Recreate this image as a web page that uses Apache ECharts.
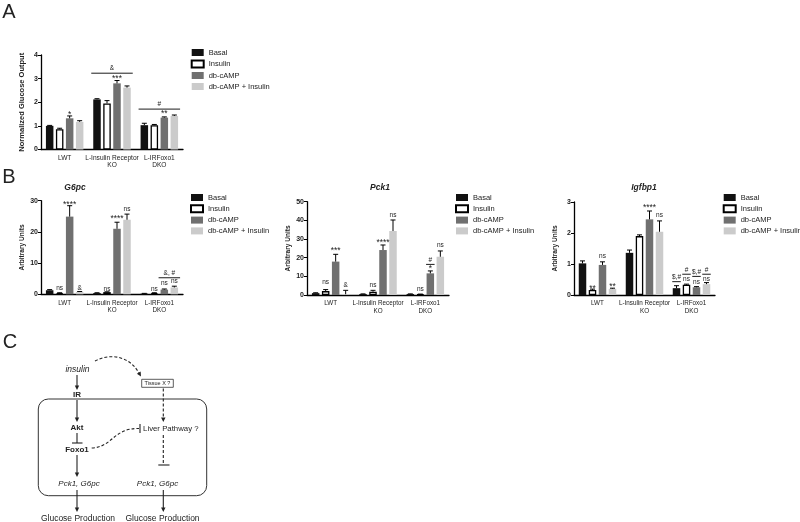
<!DOCTYPE html>
<html>
<head>
<meta charset="utf-8">
<script src="https://cdn.jsdelivr.net/npm/echarts@6/dist/echarts.min.js"></script>
<style>
  html, body { margin: 0; background: #fff; }
  #chart { width: 800px; height: 522px; }
</style>
</head>
<body>
<div id="chart"></div>
<script>
// ---- data (rows = treatment, columns = genotype) ----
const categories = ['LWT', 'L-Insulin Receptor\nKO', 'L-IRFoxo1\nDKO'];
const treatments = ['Basal', 'Insulin', 'db-cAMP', 'db-cAMP + Insulin'];

// A: normalized glucose output
const glucoseMean = [[1.0, 2.12, 1.03], [0.86, 1.95, 1.03], [1.32, 2.8, 1.35], [1.17, 2.62, 1.42]];
const glucoseTop = [[1.02, 2.15, 1.11], [0.9, 2.07, 1.06], [1.42, 2.92, 1.38], [1.22, 2.69, 1.46]];
const glucoseNotes = [[0, 2, 1.53, '*'], [1, 2, 3.06, '***'], [2, 2, 1.58, '**']];
const glucoseBrackets = [[1, 0, 3, 3.23, '&'], [2, 0, 3, 1.71, '#']];

// B: G6pc
const g6pcMean = [[1.3, 0.4, 0.2], [0.4, 0.7, 0.4], [24.9, 21.0, 1.5], [0.75, 23.9, 2.2]];
const g6pcTop = [[1.5, 0.5, 0.3], [0.5, 0.8, 0.5], [28.4, 23.1, 1.7], [0.9, 25.7, 2.6]];
const g6pcNotes = [[0, 1, 1.8, 'ns'], [0, 2, 29.0, '****'], [0, 3, 1.8, '&'], [1, 1, 1.6, 'ns'],
  [1, 2, 24.7, '****'], [1, 3, 27.3, 'ns'], [2, 1, 1.7, 'ns'], [2, 2, 3.5, 'ns'], [2, 3, 4.3, 'ns']];
const g6pcBrackets = [[2, 2, 3, 5.3, '&, #']];

// B: Pck1
const pck1Mean = [[1.0, 0.5, 0.5], [2.1, 1.8, 0.4], [17.9, 24.1, 11.6], [0.4, 34.3, 20.5]];
const pck1Top = [[1.2, 0.6, 0.6], [2.9, 2.5, 0.5], [21.8, 26.8, 12.9], [2.5, 40.2, 23.6]];
const pck1Notes = [[0, 1, 6.8, 'ns'], [0, 2, 24.1, '***'], [0, 3, 5.4, '&'], [1, 1, 5.0, 'ns'],
  [1, 2, 28.5, '****'], [1, 3, 42.8, 'ns'], [2, 1, 3.2, 'ns'], [2, 2, 14.6, '*'], [2, 3, 26.8, 'ns']];
const pck1Brackets = [[2, 2, 2, 16.4, '#']];

// B: Igfbp1
const igfbp1Mean = [[1.02, 1.36, 0.22], [0.16, 1.9, 0.33], [0.97, 2.44, 0.25], [0.2, 2.04, 0.35]];
const igfbp1Top = [[1.1, 1.45, 0.3], [0.19, 1.94, 0.35], [1.07, 2.71, 0.27], [0.22, 2.39, 0.4]];
const igfbp1Notes = [[0, 1, 0.25, '**'], [0, 2, 1.24, 'ns'], [0, 3, 0.3, '**'], [1, 2, 2.85, '****'],
  [1, 3, 2.58, 'ns'], [2, 1, 0.52, 'ns'], [2, 2, 0.4, 'ns'], [2, 3, 0.52, 'ns']];
const igfbp1Brackets = [[2, 0, 0, 0.43, '$,#'], [2, 1, 1, 0.67, '#'], [2, 2, 2, 0.6, '$,#'], [2, 3, 3, 0.67, '#']];

// ---- styling ----
const FONT = '"Liberation Sans", Arial, sans-serif';
const INK = '#222';
const BAR_W = 7.5;
const SLOT = 10; // bar width + gap
const barStyles = [
  { color: '#111' },
  { color: '#fff', borderColor: '#000', borderWidth: 1.3 },
  { color: '#707070' },
  { color: '#cbcbcb' }
];

const panels = [
  { mean: glucoseMean, top: glucoseTop, notes: glucoseNotes, brackets: glucoseBrackets,
    grid: { left: 41, top: 55, width: 142, height: 94.5 }, max: 4, step: 1,
    yName: 'Normalized Glucose Output', nameSize: 7.5, labelSize: 6.6, legend: [190.7, 48.5], gap: 3 },
  { mean: g6pcMean, top: g6pcTop, notes: g6pcNotes, brackets: g6pcBrackets,
    grid: { left: 41, top: 200.7, width: 142, height: 93.6 }, max: 30, step: 10,
    yName: 'Arbitrary Units', nameSize: 6.6, labelSize: 6.3, legend: [190, 193.5], gap: 2.8 },
  { mean: pck1Mean, top: pck1Top, notes: pck1Notes, brackets: pck1Brackets,
    grid: { left: 307, top: 201.7, width: 142, height: 93.3 }, max: 50, step: 10,
    yName: 'Arbitrary Units', nameSize: 6.6, labelSize: 6.3, legend: [455, 193.5], gap: 2.8 },
  { mean: igfbp1Mean, top: igfbp1Top, notes: igfbp1Notes, brackets: igfbp1Brackets,
    grid: { left: 574, top: 202, width: 141, height: 93 }, max: 3, step: 1,
    yName: 'Arbitrary Units', nameSize: 6.6, labelSize: 6.3, legend: [722.7, 193.5], gap: 2.8 }
];

function errorSeries(k, mean, top) {
  const rows = [];
  mean.forEach((vals, b) => vals.forEach((v, c) => rows.push([c, b, v, top[b][c]])));
  return {
    type: 'custom', xAxisIndex: k, yAxisIndex: k, silent: true, z: 3,
    encode: { x: 0, y: 3 },
    data: rows,
    renderItem: (params, api) => {
      const c = api.value(0), b = api.value(1);
      const p0 = api.coord([c, api.value(2)]);
      const p1 = api.coord([c, api.value(3)]);
      const x = p0[0] + (b - 1.5) * SLOT;
      const st = { stroke: '#000', lineWidth: 1 };
      return { type: 'group', children: [
        { type: 'line', shape: { x1: x, y1: p0[1], x2: x, y2: p1[1] }, style: st },
        { type: 'line', shape: { x1: x - 2.5, y1: p1[1], x2: x + 2.5, y2: p1[1] }, style: st }
      ] };
    }
  };
}

function noteSeries(k, notes, brackets) {
  const items = notes.map(n => ({ c: n[0], b0: n[1], b1: n[1], v: n[2], t: n[3], line: false }))
    .concat(brackets.map(n => ({ c: n[0], b0: n[1], b1: n[2], v: n[3], t: n[4], line: true })));
  return {
    type: 'custom', xAxisIndex: k, yAxisIndex: k, silent: true, z: 4,
    encode: { x: 0, y: 1 },
    data: items.map(it => [it.c, it.v]),
    renderItem: (params, api) => {
      const it = items[params.dataIndex];
      const p = api.coord([it.c, it.v]);
      const pad = it.b0 === it.b1 ? 0.5 : 2;
      const x0 = p[0] + (it.b0 - 1.5) * SLOT - BAR_W / 2 - pad;
      const x1 = p[0] + (it.b1 - 1.5) * SLOT + BAR_W / 2 + pad;
      const star = /^\*+$/.test(it.t);
      const txt = {
        type: 'text', x: (x0 + x1) / 2, y: it.line ? p[1] - 4.5 : p[1] + (star ? 1 : 0),
        style: { text: it.t, fill: INK, font: (star ? '8.5px ' : '6.5px ') + FONT,
          textAlign: 'center', textVerticalAlign: 'middle' }
      };
      if (!it.line) return txt;
      return { type: 'group', children: [
        { type: 'line', shape: { x1: x0, y1: p[1], x2: x1, y2: p[1] }, style: { stroke: '#000', lineWidth: 0.9 } },
        txt
      ] };
    }
  };
}

const grids = [], xAxes = [], yAxes = [], legends = [], series = [];
panels.forEach((p, k) => {
  grids.push(Object.assign({ outerBoundsMode: 'none', containLabel: false }, p.grid));
  xAxes.push({
    type: 'category', gridIndex: k, data: categories,
    axisLine: { lineStyle: { color: '#000', width: 1.3 } },
    axisTick: { alignWithLabel: true, length: 3, lineStyle: { color: '#000' } },
    axisLabel: { fontSize: p.labelSize, color: INK, lineHeight: 7.2, margin: 5, interval: 0, fontFamily: FONT },
    splitLine: { show: false }
  });
  yAxes.push({
    type: 'value', gridIndex: k, min: 0, max: p.max, interval: p.step,
    name: p.yName, nameLocation: 'middle', nameGap: 15,
    nameTextStyle: { fontSize: p.nameSize, fontWeight: 'bold', color: INK, fontFamily: FONT },
    axisLine: { show: true, lineStyle: { color: '#000', width: 1.3 } },
    axisTick: { show: true, length: 3, lineStyle: { color: '#000' } },
    axisLabel: { fontSize: 7, fontWeight: 'bold', color: INK, margin: 3, fontFamily: FONT },
    splitLine: { show: false }
  });
  legends.push({
    data: treatments, orient: 'vertical', left: p.legend[0], top: p.legend[1], padding: 0,
    icon: 'rect', itemWidth: 12, itemHeight: 7, itemGap: p.gap, selectedMode: false,
    textStyle: { fontSize: 7.5, color: INK, fontFamily: FONT }
  });
  treatments.forEach((name, b) => {
    series.push({
      name, type: 'bar', xAxisIndex: k, yAxisIndex: k, data: p.mean[b],
      barWidth: BAR_W, barGap: '33.3%', itemStyle: barStyles[b], z: 2, silent: true
    });
  });
  series.push(errorSeries(k, p.mean, p.top));
  series.push(noteSeries(k, p.notes, p.brackets));
});

// ---- panel letters, gene titles and the schematic in panel C ----
function gText(x, y, text, font) {
  return { type: 'text', x, y, silent: true,
    style: { text, fill: INK, font: font + ' ' + FONT, textAlign: 'center', textVerticalAlign: 'middle' } };
}
function gLine(x1, y1, x2, y2, dash) {
  return { type: 'line', silent: true, shape: { x1, y1, x2, y2 },
    style: { stroke: INK, lineWidth: 1.1, lineDash: dash ? [3, 2] : null } };
}
function gHead(x, y, ang) {
  const L = 4.5, W = 2.2;
  const bx = x - L * Math.cos(ang), by = y - L * Math.sin(ang);
  const nx = -Math.sin(ang) * W, ny = Math.cos(ang) * W;
  return { type: 'polygon', silent: true, shape: { points: [[x, y], [bx + nx, by + ny], [bx - nx, by - ny]] },
    style: { fill: INK } };
}
const DOWN = Math.PI / 2;

const graphics = [
  gText(9, 12, 'A', '20px'),
  gText(9, 177, 'B', '20px'),
  gText(10, 342, 'C', '20px'),
  gText(75, 188, 'G6pc', 'italic bold 8.5px'),
  gText(380, 188, 'Pck1', 'italic bold 8.5px'),
  gText(644, 188, 'Igfbp1', 'italic bold 8.5px'),

  { type: 'rect', silent: true, shape: { x: 38.3, y: 399, width: 168.4, height: 96.7, r: 10 },
    style: { fill: 'none', stroke: '#333', lineWidth: 1 } },

  gText(77.5, 369.5, 'insulin', 'italic 8.5px'),
  gLine(77, 375, 77, 386), gHead(77, 390, DOWN),
  gText(77, 395, 'IR', 'bold 8px'),
  gLine(77, 400, 77, 418), gHead(77, 422, DOWN),
  gText(77, 427.5, 'Akt', 'bold 8px'),
  gLine(77, 433, 77, 443), gLine(72, 443, 82.5, 443),
  gText(77, 450, 'Foxo1', 'bold 8px'),
  gLine(77, 455, 77, 473), gHead(77, 477, DOWN),
  gText(79, 484, 'Pck1, G6pc', 'italic 8px'),
  gLine(77, 490, 77, 508), gHead(77, 512, DOWN),
  gText(78, 519, 'Glucose Production', '8.5px'),

  { type: 'bezierCurve', silent: true,
    shape: { x1: 95, y1: 361, cpx1: 108, cpy1: 354, cpx2: 128, cpy2: 354, x2: 139, y2: 373 },
    style: { stroke: INK, lineWidth: 1.1, lineDash: [3, 2], fill: 'none' } },
  gHead(141, 376.5, 1.05),
  { type: 'rect', silent: true, shape: { x: 141.7, y: 379.3, width: 31.6, height: 8 },
    style: { fill: '#fff', stroke: '#333', lineWidth: 0.8 } },
  gText(157.5, 383.3, 'Tissue X ?', '5.5px'),
  gLine(163.3, 388.5, 163.3, 418, true), gHead(163.3, 422, DOWN),
  gText(170.8, 428.7, 'Liver Pathway ?', '7.8px'),
  gLine(140, 424, 140, 433),
  { type: 'bezierCurve', silent: true,
    shape: { x1: 91.7, y1: 448, cpx1: 113, cpy1: 447, cpx2: 113, cpy2: 428, x2: 139, y2: 428.5 },
    style: { stroke: INK, lineWidth: 1.1, lineDash: [3, 2], fill: 'none' } },
  gLine(163.3, 435, 163.3, 465, true), gLine(158.3, 465, 169.5, 465),
  gText(157.5, 484, 'Pck1, G6pc', 'italic 8px'),
  gLine(163.3, 490, 163.3, 508), gHead(163.3, 512, DOWN),
  gText(162.5, 519, 'Glucose Production', '8.5px')
];

const chart = echarts.init(document.getElementById('chart'), null, { renderer: 'canvas' });
chart.setOption({
  backgroundColor: '#fff',
  animation: false,
  textStyle: { fontFamily: FONT },
  grid: grids,
  xAxis: xAxes,
  yAxis: yAxes,
  legend: legends,
  series: series,
  graphic: { elements: graphics }
});
</script>
</body>
</html>
